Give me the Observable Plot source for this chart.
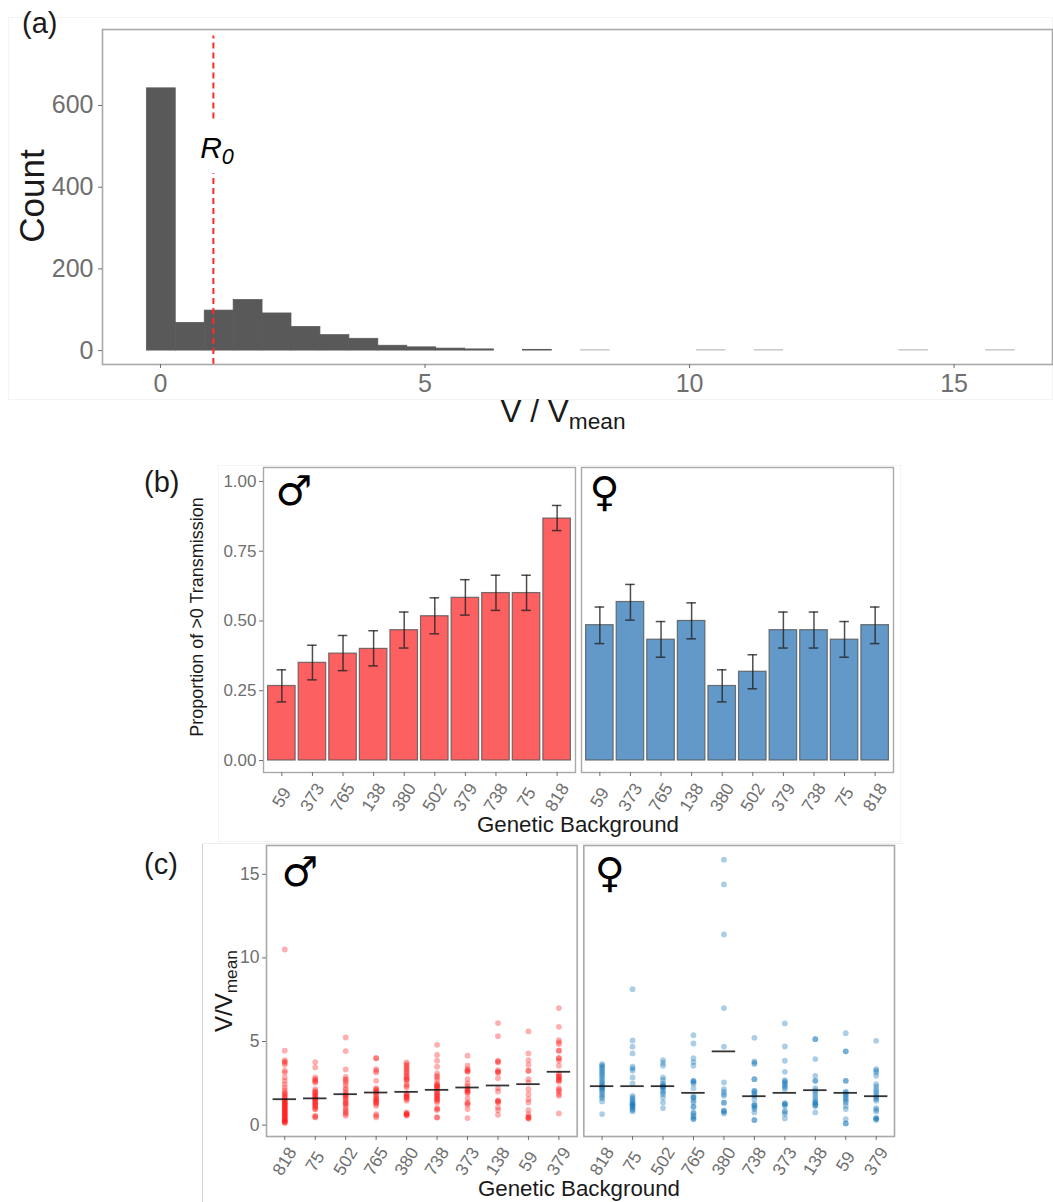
<!DOCTYPE html>
<html>
<head>
<meta charset="utf-8">
<script src="https://cdn.jsdelivr.net/npm/d3@7"></script>
<script src="https://cdn.jsdelivr.net/npm/@observablehq/plot@0.6"></script>
<style>
html,body{margin:0;padding:0;background:#fff}
#wrap{position:relative;width:1053px;height:1202px;overflow:hidden;font-family:"Liberation Sans",sans-serif;background:#fff}
#wrap svg{position:absolute;left:0;background:transparent}
.t{position:absolute;white-space:nowrap;color:#1a1a1a;line-height:1}
.t sub{font-size:.72em;vertical-align:-.28em;line-height:0}
.r{transform:translate(-50%,-50%) rotate(-90deg)}
.c{transform:translate(-50%,-50%)}
.edge{position:absolute;box-sizing:border-box}
</style>
</head>
<body>
<div id="wrap"></div>
<script>
// Panel (a): histogram of V / Vmean
const histCenters = [0.015,0.562,1.109,1.656,2.203,2.75,3.297,3.844,4.391,4.938,5.485,6.032,7.126,8.22,10.408,11.502,14.237,15.878];
const histCounts  = [642,68,98,124,91,58,38,29,12,8,5,3,2,1,1,1,1,1];
const histBinWidth = 0.547;
const r0Value = 1;

// Panel (b): proportion of >0 transmission
const bOrder = ["59","373","765","138","380","502","379","738","75","818"];
const bMale     = [0.267,0.350,0.383,0.400,0.467,0.517,0.583,0.600,0.600,0.867];
const bMaleLow  = [0.210,0.289,0.322,0.339,0.403,0.454,0.521,0.538,0.538,0.824];
const bMaleHigh = [0.325,0.413,0.448,0.465,0.532,0.583,0.648,0.664,0.664,0.914];
const bFemale     = [0.485,0.568,0.433,0.500,0.267,0.318,0.467,0.467,0.433,0.485];
const bFemaleLow  = [0.419,0.503,0.370,0.436,0.210,0.257,0.403,0.403,0.370,0.419];
const bFemaleHigh = [0.550,0.631,0.498,0.565,0.325,0.379,0.532,0.532,0.498,0.550];

// Panel (c): individual V / Vmean values and means
const cOrder = ["818","75","502","765","380","738","373","138","59","379"];
const cMaleMeans   = [1.55,1.60,1.85,1.95,1.99,2.11,2.25,2.37,2.45,3.19];
const cFemaleMeans = [2.33,2.33,2.33,1.93,4.41,1.73,1.93,2.09,1.93,1.73];
const m818 = [10.5,4.45,3.89,3.8,3.73,3.61,3.25,3.15,2.85,2.65,2.45,2.25,2.09,1.95,1.88,1.81,1.72,1.65,1.55,1.46,1.46,1.36,1.36,1.28,1.22,1.22,1.14,1.06,1.06,0.98,0.92,0.92,0.84,0.76,0.76,0.68,0.62,0.62,0.54,0.46,0.46,0.38,0.32,0.32,0.26,0.22,0.22,0.14,0.14];
const m75  = [3.77,3.45,2.85,2.75,2.69,2.6,2.55,2.15,2.05,1.95,1.95,1.85,1.75,1.75,1.65,1.55,1.55,1.45,1.36,1.36,1.26,1.16,1.16,1.06,0.96,0.96,0.56,0.5,0.46];
const m502 = [5.24,4.43,3.33,2.89,2.75,2.69,2.55,2.4,2.21,2.1,1.95,1.85,1.75,1.75,1.65,1.55,1.45,1.36,1.26,1.26,1.1,0.96,0.85,0.76,0.66,0.56];
const m765 = [4.0,4.0,3.35,3.25,3.15,2.65,2.21,2.15,2.09,2.0,1.95,1.85,1.75,1.65,1.55,1.55,1.45,1.36,1.36,1.26,1.16,0.66,0.56,0.46];
const m380 = [3.75,3.65,3.55,3.45,3.35,3.25,3.15,3.05,2.95,2.85,2.75,2.75,2.65,2.45,2.35,2.25,1.9,1.81,1.81,1.72,1.65,1.65,1.55,1.46,0.76,0.7,0.66,0.66,0.6,0.56];
const m738 = [4.8,4.2,3.85,3.49,3.09,2.95,2.85,2.7,2.49,2.42,2.35,2.35,2.28,2.21,2.1,1.95,1.95,1.85,1.75,1.75,1.65,1.55,1.55,1.45,1.36,1.02,0.96,0.9,0.46,0.46];
const m373 = [4.15,3.55,3.35,3.28,3.21,3.21,2.75,2.49,2.35,2.21,2.12,2.05,2.05,1.97,1.89,1.6,1.36,1.3,1.22,0.96,0.42];
const m138 = [6.1,5.32,3.85,3.8,3.75,3.29,3.22,3.15,3.15,2.81,2.21,2.01,1.46,1.46,1.4,1.36,1.06,0.9,0.62];
const m59  = [5.6,4.29,3.89,3.61,3.25,3.25,2.75,2.55,2.15,1.85,1.55,1.36,0.9,0.66,0.5,0.46,0.42,0.38];
const m379 = [7.0,5.88,5.08,4.95,4.84,4.45,4.45,4.0,4.0,3.85,3.55,3.09,3.0,2.89,2.89,2.8,2.69,2.69,2.6,2.21,2.1,2.01,1.85,1.75,0.7];
const f818 = [3.65,3.57,3.49,3.39,3.29,3.19,3.09,2.99,2.89,2.77,2.65,2.55,2.45,2.35,2.25,2.25,2.15,2.05,1.95,1.81,1.71,1.61,1.42,0.66];
const f75  = [8.13,5.06,4.69,4.29,3.49,3.38,3.25,2.85,2.49,1.75,1.65,1.55,1.45,1.36,1.26,1.26,1.18,1.1,1.1,0.96,0.9,0.82];
const f502 = [3.89,3.72,3.55,2.85,2.7,2.49,2.42,2.35,2.29,2.29,2.2,2.05,1.95,1.85,1.65,1.36,1.02];
const f765 = [5.38,4.88,4.0,3.77,3.55,2.65,2.65,2.57,2.49,2.21,1.75,1.65,1.65,1.46,1.38,1.1,1.1,0.76,0.7,0.56,0.46,0.36,0.36];
const f380 = [15.87,14.39,11.4,7.0,4.69,2.55,2.15,2.0,1.85,1.75,1.34,1.34,0.86,0.86,0.78,0.7];
const f738 = [5.22,3.81,3.73,3.65,2.75,2.75,2.05,2.05,1.95,1.85,1.75,1.55,1.26,1.16,1.16,1.05,0.96,0.76,0.3,0.3];
const f373 = [6.08,4.7,3.85,3.19,2.69,2.62,2.55,2.45,2.35,2.25,2.15,1.3,1.3,1.22,1.16,0.86,0.78,0.66,0.4];
const f138 = [5.14,5.14,3.95,2.95,2.65,2.65,2.21,2.08,1.95,1.8,1.65,1.5,1.36,1.36,1.25,1.16,1.16,0.76];
const f59  = [5.5,4.41,4.41,2.65,2.65,2.0,1.95,1.85,1.75,1.65,1.55,1.45,1.36,1.15,0.96,0.36,0.1,0.1];
const f379 = [5.04,3.35,3.25,3.15,2.95,2.45,2.3,2.15,2.0,1.89,1.75,1.65,1.55,1.46,1.02,0.92,0.82,0.42,0.42,0.36,0.3];

const maleLists = [m818,m75,m502,m765,m380,m738,m373,m138,m59,m379];
const femaleLists = [f818,f75,f502,f765,f380,f738,f373,f138,f59,f379];

const FONT = '"Liberation Sans", sans-serif';
const TICK = "#6f6f6f";
const FRAME = "#a9a9a9";
const wrap = document.getElementById("wrap");

function addText(html, x, y, size, cls, extra) {
  const d = document.createElement("div");
  d.className = "t " + cls;
  d.innerHTML = html;
  d.style.left = x + "px"; d.style.top = y + "px"; d.style.fontSize = size + "px";
  if (extra) Object.assign(d.style, extra);
  wrap.appendChild(d);
}
function addEdge(l, t, w, h, css) {
  const d = document.createElement("div");
  d.className = "edge";
  d.style.cssText += `left:${l}px;top:${t}px;width:${w}px;height:${h}px;${css}`;
  wrap.appendChild(d);
}
addEdge(8, 17, 1045, 383, "border:1px solid #f4f4f4;");
addEdge(218, 465, 683, 377, "border:1px solid #f4f4f4;");
addEdge(202, 843, 1, 359, "background:#d4d4d4;");
addEdge(202, 843, 700, 1, "background:#eeeeee;");

// ---------- Panel (a) ----------
const histData = histCenters.map((c, i) => ({x1: c - histBinWidth / 2, x2: c + histBinWidth / 2, count: histCounts[i]}));
wrap.appendChild(Plot.plot({
  width: 1053, height: 430,
  marginTop: 29, marginBottom: 66, marginLeft: 102, marginRight: 1,
  style: {position: "absolute", top: "0px", fontFamily: FONT, background: "transparent"},
  x: {domain: [-1.096, 16.86], label: null},
  y: {domain: [-34, 786], label: null},
  marks: [
    Plot.rectY(histData, {x1: "x1", x2: "x2", y1: 0, y2: "count", fill: "#595959",
      stroke: d => d.count === 1 ? "#cfcfcf" : "#595959", strokeWidth: 0.7}),
    Plot.ruleX([r0Value], {y1: -34, y2: 433, stroke: "#ff2a22", strokeWidth: 2, strokeDasharray: "6,4"}),
    Plot.ruleX([r0Value], {y1: 567, y2: 770, stroke: "#ff2a22", strokeWidth: 2, strokeDasharray: "6,4"}),
    Plot.frame({stroke: FRAME, strokeWidth: 1.6}),
    Plot.axisX({ticks: [0, 5, 10, 15], tickFormat: d => d, fontSize: 25, color: TICK, tickSize: 4, tickPadding: 6, label: null}),
    Plot.axisY({ticks: [0, 200, 400, 600], fontSize: 25, color: TICK, tickSize: 4, tickPadding: 5, label: null})
  ]
}));
addText('(a)', 22, 9, 29, "");
addText('Count', 31, 196, 35, "r");
addText('V / V<sub>mean</sub>', 563, 412, 31.5, "c");
addText('<i>R<sub>0</sub></i>', 217, 148, 30, "c", {color: "#000"});

// ---------- Panel (b) ----------
const bData = [
  ...bOrder.map((g, i) => ({g, sex: "m", v: bMale[i], lo: bMaleLow[i], hi: bMaleHigh[i]})),
  ...bOrder.map((g, i) => ({g, sex: "f", v: bFemale[i], lo: bFemaleLow[i], hi: bFemaleHigh[i]}))
];
const male = [{sex: "m", s: "\u2642"}];
const female = [{sex: "f", s: "\u2640"}];
const colour = {m: "#fd6060", f: "#6399c9"};
const signStyle = {text: "s", fx: "sex", frameAnchor: "top-left", fontSize: 41, fontFamily: "DejaVu Sans", fill: "#000", textAnchor: "start", lineAnchor: "top"};
wrap.appendChild(Plot.plot({
  width: 1053, height: 380,
  marginTop: 7, marginBottom: 68, marginLeft: 263, marginRight: 160,
  style: {position: "absolute", top: "460px", fontFamily: FONT, background: "transparent"},
  fx: {domain: ["m", "f"], paddingInner: 0.0189, paddingOuter: 0, round: false, axis: null, label: null},
  x: {domain: bOrder, paddingInner: 0.1, paddingOuter: 0.15, round: false, label: null},
  y: {domain: [-0.043, 1.05], label: null},
  marks: [
    Plot.barY(bData, {x: "g", y: "v", fx: "sex", fill: d => colour[d.sex], stroke: "#555", strokeOpacity: 0.8, strokeWidth: 1.2}),
    Plot.ruleX(bData, {x: "g", y1: "lo", y2: "hi", fx: "sex", stroke: "#222", strokeOpacity: 0.8, strokeWidth: 1.5}),
    Plot.tickY(bData, {x: "g", y: "lo", fx: "sex", stroke: "#222", strokeOpacity: 0.8, strokeWidth: 1.5, insetLeft: 9, insetRight: 9}),
    Plot.tickY(bData, {x: "g", y: "hi", fx: "sex", stroke: "#222", strokeOpacity: 0.8, strokeWidth: 1.5, insetLeft: 9, insetRight: 9}),
    Plot.frame({stroke: FRAME, strokeWidth: 1.4}),
    Plot.text(male, {...signStyle, dx: 12, dy: 8}),
    Plot.text(female, {...signStyle, dx: 8, dy: 9}),
    Plot.axisX({tickRotate: -58, textAnchor: "middle", lineAnchor: "middle", tickSize: 4, tickPadding: 21, fontSize: 17.5, color: TICK, label: null}),
    Plot.axisY({ticks: [0, 0.25, 0.5, 0.75, 1], tickFormat: ".2f", fontSize: 17, color: TICK, tickSize: 4, tickPadding: 3, label: null})
  ]
}));
addText('(b)', 144, 468, 29, "");
addText('Proportion of &gt;0 Transmission', 197, 617, 18, "r");
addText('Genetic Background', 578, 825, 22.3, "c");

// ---------- Panel (c) ----------
const cPoints = [];
cOrder.forEach((g, i) => {
  maleLists[i].forEach(v => cPoints.push({g, sex: "m", v}));
  femaleLists[i].forEach(v => cPoints.push({g, sex: "f", v}));
});
const cMeans = [
  ...cOrder.map((g, i) => ({g, sex: "m", v: cMaleMeans[i]})),
  ...cOrder.map((g, i) => ({g, sex: "f", v: cFemaleMeans[i]}))
];
const dotColour = {m: "#ff1a1a", f: "#0f74b8"};
wrap.appendChild(Plot.plot({
  width: 1053, height: 340,
  marginTop: 5, marginBottom: 44, marginLeft: 266, marginRight: 159,
  style: {position: "absolute", top: "840px", fontFamily: FONT, background: "transparent"},
  fx: {domain: ["m", "f"], paddingInner: 0.0209, paddingOuter: 0, round: false, axis: null, label: null},
  x: {domain: cOrder, paddingInner: 0.1, paddingOuter: 0.15, round: false, label: null},
  y: {domain: [-0.68, 16.72], label: null},
  marks: [
    Plot.dot(cPoints, {x: "g", y: "v", fx: "sex", r: 2.9, fill: d => dotColour[d.sex], fillOpacity: 0.35}),
    Plot.tickY(cMeans, {x: "g", y: "v", fx: "sex", stroke: "#111", strokeOpacity: 0.85, strokeWidth: 1.8, insetLeft: 2, insetRight: 2}),
    Plot.frame({stroke: FRAME, strokeWidth: 1.6}),
    Plot.text(male, {...signStyle, dx: 15, dy: 11}),
    Plot.text(female, {...signStyle, dx: 11, dy: 12}),
    Plot.axisX({tickRotate: -58, textAnchor: "middle", lineAnchor: "middle", tickSize: 4, tickPadding: 21, fontSize: 17.5, color: TICK, label: null}),
    Plot.axisY({ticks: [0, 5, 10, 15], fontSize: 17.5, color: TICK, tickSize: 4, tickPadding: 3, label: null})
  ]
}));
addText('(c)', 144, 850, 29, "");
addText('V/V<sub>mean</sub>', 224, 991, 24, "r");
addText('Genetic Background', 579, 1189, 22.3, "c");
</script>
</body>
</html>
